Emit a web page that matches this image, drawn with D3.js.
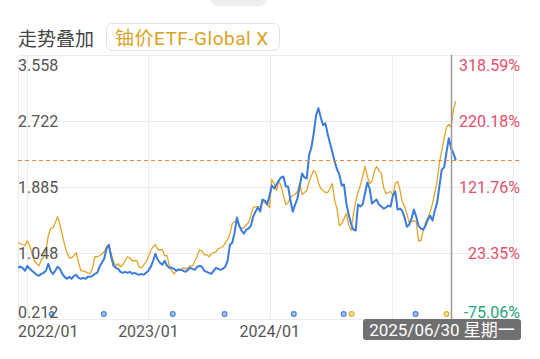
<!DOCTYPE html>
<html>
<head>
<meta charset="utf-8">
<script src="https://cdn.jsdelivr.net/npm/d3@7"></script>
<style>
  body { margin: 0; background: #fff; }
  svg { display: block; font-family: Roboto, "Noto Sans CJK SC", sans-serif; }
</style>
</head>
<body>
<svg id="chart"></svg>
<script>
// weekly closes, starting 2021/12/05
const blueValues = [
    0.865, 0.874, 0.861, 0.823, 0.886, 0.848, 0.823, 0.797, 0.772, 0.759,
    0.784, 0.797, 0.823, 0.912, 0.823, 0.784, 0.823, 0.874, 0.848, 0.784,
    0.746, 0.721, 0.746, 0.721, 0.759, 0.772, 0.733, 0.721, 0.733, 0.721,
    0.746, 0.746, 0.759, 0.784, 0.797, 0.874, 0.925, 0.975, 1.103, 1.153,
    1.001, 0.886, 0.861, 0.848, 0.810, 0.797, 0.810, 0.797, 0.810, 0.784,
    0.797, 0.784, 0.772, 0.784, 0.772, 0.797, 0.823, 0.874, 0.950, 1.039,
    0.963, 0.925, 0.899, 0.950, 0.886, 0.861, 0.861, 0.848, 0.823, 0.835,
    0.835, 0.823, 0.810, 0.835, 0.861, 0.848, 0.835, 0.874, 0.886, 0.874,
    0.823, 0.810, 0.797, 0.784, 0.823, 0.861, 0.848, 0.835, 0.848, 0.874,
    0.950, 1.153, 1.179, 1.306, 1.497, 1.395, 1.332, 1.293, 1.344, 1.357,
    1.395, 1.510, 1.573, 1.624, 1.573, 1.726, 1.713, 1.662, 1.777, 1.904,
    1.866, 1.917, 1.968, 2.006, 2.018, 1.891, 1.891, 1.713, 1.573, 1.662,
    1.739, 1.904, 2.057, 2.006, 1.993, 2.286, 2.388, 2.566, 2.795, 2.884,
    2.769, 2.667, 2.693, 2.553, 2.438, 2.324, 2.209, 2.108, 2.044, 1.904,
    1.917, 1.675, 1.535, 1.421, 1.344, 1.332, 1.662, 1.637, 1.662, 1.802,
    1.942, 1.866, 1.675, 1.700, 1.726, 1.662, 1.637, 1.611, 1.624, 1.650,
    1.637, 1.777, 1.828, 1.599, 1.611, 1.586, 1.497, 1.382, 1.408, 1.484,
    1.599, 1.510, 1.395, 1.357, 1.344, 1.395, 1.471, 1.522, 1.459, 1.586,
    1.688, 1.904, 2.108, 2.133, 2.324, 2.502, 2.375, 2.311, 2.222
];
const yellowValues = [
    1.179, 1.166, 1.153, 1.141, 1.204, 1.141, 1.039, 0.950, 0.912, 0.886,
    0.963, 1.001, 1.077, 1.268, 1.357, 1.370, 1.433, 1.510, 1.408, 1.281,
    1.153, 1.052, 0.988, 0.988, 1.014, 1.052, 0.925, 0.823, 0.823, 0.810,
    0.797, 0.784, 0.861, 1.001, 1.001, 1.014, 1.039, 1.064, 1.128, 1.153,
    1.039, 0.937, 0.886, 0.912, 0.874, 0.899, 0.950, 1.001, 0.988, 0.950,
    0.950, 0.950, 0.874, 0.861, 0.899, 0.937, 1.001, 1.077, 1.128, 1.153,
    1.090, 1.090, 1.090, 1.014, 1.014, 0.886, 0.823, 0.784, 0.823, 0.848,
    0.835, 0.861, 0.848, 0.861, 0.886, 0.886, 0.950, 1.014, 1.090, 1.077,
    1.026, 1.026, 1.001, 1.039, 1.052, 1.064, 1.103, 1.115, 1.128, 1.179,
    1.217, 1.293, 1.421, 1.446, 1.459, 1.395, 1.357, 1.370, 1.408, 1.433,
    1.522, 1.624, 1.637, 1.637, 1.637, 1.700, 1.688, 1.662, 1.624, 1.980,
    1.929, 1.840, 1.968, 1.891, 1.777, 1.662, 1.688, 1.751, 1.777, 1.790,
    1.828, 1.929, 1.790, 1.815, 1.840, 1.955, 2.031, 2.095, 2.057, 1.942,
    1.866, 1.840, 1.815, 1.815, 1.866, 1.929, 1.713, 1.611, 1.395, 1.421,
    1.484, 1.548, 1.408, 1.332, 1.535, 1.700, 1.815, 1.904, 2.018, 2.146,
    2.018, 1.929, 1.955, 2.082, 2.146, 2.095, 2.057, 1.879, 1.802, 1.815,
    1.828, 1.777, 1.929, 1.955, 1.853, 1.700, 1.637, 1.548, 1.433, 1.446,
    1.459, 1.446, 1.204, 1.204, 1.332, 1.433, 1.497, 1.573, 1.675, 1.815,
    1.968, 2.197, 2.349, 2.502, 2.642, 2.680, 2.642, 2.871, 2.973
];
const startDate = new Date(2021, 11, 5);

const leftTicks = [3.558, 2.722, 1.885, 1.048, 0.212];
const rightTicks = [318.59, 220.18, 121.76, 23.35, -75.06];
const xTickDates = ["2022-01-01", "2023-01-01", "2024-01-01", "2025-01-01", "2026-01-01"];
const xTickLabels = ["2022/01", "2023/01", "2024/01"];

const blueEvents = ["2022-03-16", "2022-08-20", "2023-03-15", "2023-08-18", "2024-03-13", "2024-08-10", "2025-03-14"];
const yellowEvents = ["2024-09-03", "2025-06-15"];
const cursorDate = "2025-06-30";
const weekdays = ["星期日", "星期一", "星期二", "星期三", "星期四", "星期五", "星期六"];

const width = 540;
const height = 359;
const plotLeft = 18, plotRight = 519, plotTop = 55, plotBottom = 319;

const parse = d3.timeParse("%Y-%m-%d");
const toSeries = vals => vals.map((v, i) => ({ date: d3.timeDay.offset(startDate, 7 * i), value: v }));
const blue = toSeries(blueValues);
const yellow = toSeries(yellowValues);

const svg = d3.select("#chart").attr("width", width).attr("height", height);

const x = d3.scaleTime().domain([parse("2022-01-01"), parse("2026-01-01")]).range([27, 513]);
const y = d3.scaleLinear().domain([0.212, 3.558]).range([plotBottom, plotTop]);
const yPct = d3.scaleLinear().domain([-75.06, 318.59]).range([plotBottom, plotTop]);

// header
svg.append("rect").attr("x", 210).attr("y", -12).attr("width", 57).attr("height", 18)
    .attr("rx", 8).style("fill", "#eeeeee");
svg.append("text").attr("x", 18).attr("y", 46).text("走势叠加")
    .style("font-size", "19px").style("fill", "#444");
svg.append("rect").attr("x", 106.5).attr("y", 23.5).attr("width", 173).attr("height", 27)
    .attr("rx", 6).style("fill", "#fff").style("stroke", "#e2e2e2");
svg.append("text").attr("x", 115).attr("y", 44.5).text("铀价ETF-Global X")
    .style("font-size", "19px").style("letter-spacing", "0.5px").style("fill", "#d9a21f");

// grid
const grid = svg.append("g").style("stroke", "#ececec").style("stroke-width", 1);
grid.selectAll(".h").data(leftTicks).enter().append("line")
    .attr("x1", plotLeft).attr("x2", plotRight)
    .attr("y1", d => Math.round(y(d)) + 0.5).attr("y2", d => Math.round(y(d)) + 0.5);
grid.selectAll(".v").data(xTickDates).enter().append("line")
    .attr("x1", d => Math.round(x(parse(d))) + 0.5).attr("x2", d => Math.round(x(parse(d))) + 0.5)
    .attr("y1", plotTop).attr("y2", plotBottom);
grid.append("line").attr("x1", plotLeft + 0.5).attr("x2", plotLeft + 0.5).attr("y1", plotTop).attr("y2", plotBottom);

// lines
const line = d3.line().x(d => x(d.date)).y(d => y(d.value));
svg.append("path").datum(yellow).attr("d", line)
    .style("fill", "none").style("stroke", "#e2a52a").style("stroke-width", 1.3)
    .style("stroke-linejoin", "round");
svg.append("path").datum(blue).attr("d", line)
    .style("fill", "none").style("stroke", "#3a7bdc").style("stroke-width", 2)
    .style("stroke-linejoin", "round");

// last value dashed line
const lastY = Math.round(y(blueValues[blueValues.length - 1])) + 0.5;
svg.append("line").attr("x1", plotLeft).attr("x2", plotRight).attr("y1", lastY).attr("y2", lastY)
    .style("stroke", "#f0883a").style("stroke-width", 1).style("stroke-dasharray", "4,3");

// cursor
const cx = Math.round(x(parse(cursorDate))) + 0.5;
svg.append("line").attr("x1", cx).attr("x2", cx).attr("y1", plotTop).attr("y2", plotBottom)
    .style("stroke", "#9a9a9a").style("stroke-width", 1.5);

// event dots
const dotY = y(0.212) - 5;
svg.selectAll(".bdot").data(blueEvents).enter().append("circle")
    .attr("cx", d => x(parse(d))).attr("cy", dotY).attr("r", 2.4)
    .style("fill", "#a9c4f2").style("stroke", "#4a82de").style("stroke-width", 1.2);
svg.selectAll(".ydot").data(yellowEvents).enter().append("circle")
    .attr("cx", d => x(parse(d))).attr("cy", dotY).attr("r", 2.4)
    .style("fill", "#fbe3a6").style("stroke", "#e6ab2e").style("stroke-width", 1.2);

// left axis labels
const n = leftTicks.length;
svg.selectAll(".yl").data(leftTicks).enter().append("text")
    .attr("x", 18)
    .attr("y", (d, i) => i === 0 ? y(d) + 16 : i === n - 1 ? y(d) - 1 : y(d) + 6)
    .text(d => d.toFixed(3))
    .style("font-size", "16px").style("fill", "#555");

// right axis labels
svg.selectAll(".yr").data(rightTicks).enter().append("text")
    .attr("x", 520).attr("text-anchor", "end")
    .attr("y", (d, i) => i === 0 ? yPct(d) + 16 : i === n - 1 ? yPct(d) - 1 : yPct(d) + 6)
    .text(d => d.toFixed(2) + "%")
    .style("font-size", "16px").style("fill", d => d < 0 ? "#22a57a" : "#e2506a");

// x labels
svg.selectAll(".xl").data(xTickLabels).enter().append("text")
    .attr("x", (d, i) => i === 0 ? plotLeft : x(parse(xTickDates[i])))
    .attr("text-anchor", (d, i) => i === 0 ? "start" : "middle")
    .attr("y", 337)
    .text(d => d)
    .style("font-size", "16px").style("fill", "#555");

// tooltip
const cd = parse(cursorDate);
const tip = svg.append("g");
tip.append("rect").attr("x", 363).attr("y", 319).attr("width", 158).attr("height", 21)
    .attr("rx", 3).style("fill", "#707070");
tip.append("text").attr("x", 442).attr("y", 336).attr("text-anchor", "middle")
    .text(d3.timeFormat("%Y/%m/%d")(cd) + " " + weekdays[cd.getDay()])
    .style("font-size", "17px").style("fill", "#fff");
</script>
</body>
</html>
